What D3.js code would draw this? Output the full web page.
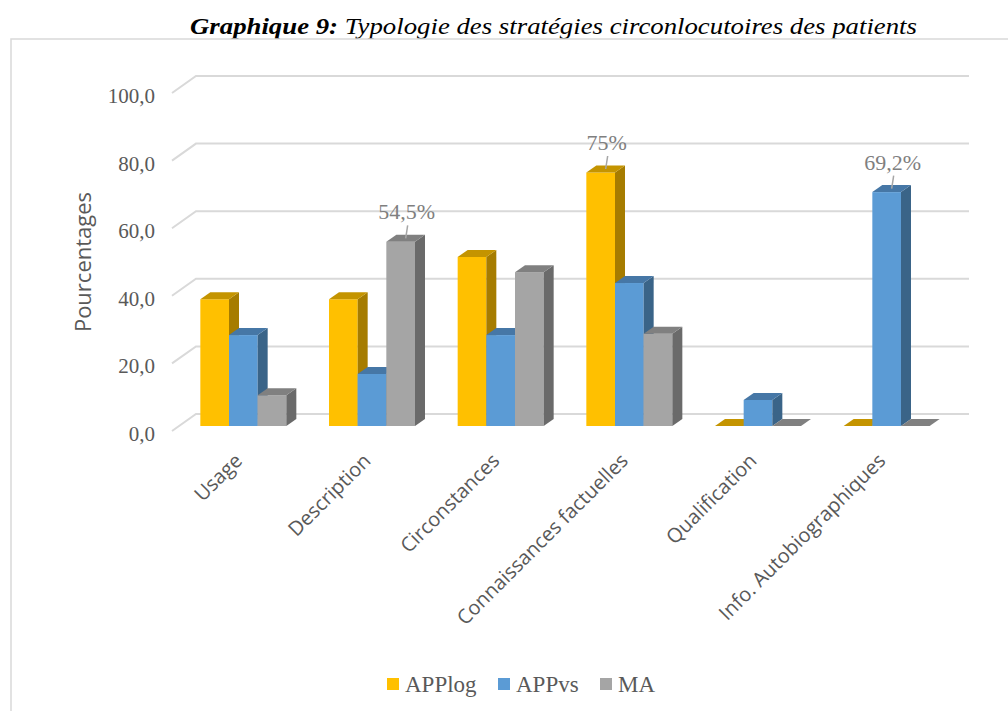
<!DOCTYPE html>
<html>
<head>
<meta charset="utf-8">
<script src="https://cdn.jsdelivr.net/npm/d3@7"></script>
<style>
  body { margin: 0; background: #fff; }
  svg { display: block; }
</style>
</head>
<body>
<div id="viz_container"></div>
<script>
// chart data
const categories = ["Usage", "Description", "Circonstances", "Connaissances factuelles", "Qualification", "Info. Autobiographiques"];
const seriesNames = ["APPlog", "APPvs", "MA"];
const appLog = [37.5, 37.5, 50.0, 75.0, 0, 0];
const appVs = [26.9, 15.4, 26.9, 42.3, 7.7, 69.2];
const ma = [9.1, 54.5, 45.5, 27.3, 0, 0];
const yTicks = [0, 20, 40, 60, 80, 100];
// labelled points: [category index, series index, text]
const dataLabels = [[1, 2, "54,5%"], [3, 0, "75%"], [5, 1, "69,2%"]];

const seriesValues = [appLog, appVs, ma];
const colors = {
  APPlog: { front: "#FFC000", side: "#A67C00", top: "#C49400" },
  APPvs: { front: "#5B9BD5", side: "#3A6488", top: "#4677A6" },
  MA: { front: "#A5A5A5", side: "#6A6A6A", top: "#808080" }
};

const width = 1008, height = 711;
const svg = d3.select("#viz_container")
  .append("svg")
    .attr("width", width)
    .attr("height", height);

// title
const title = svg.append("text")
  .attr("x", 190)
  .attr("y", 34)
  .attr("textLength", 727)
  .attr("lengthAdjust", "spacingAndGlyphs")
  .style("font-family", "'Liberation Serif', 'Times New Roman', serif")
  .style("font-size", "24px")
  .style("font-style", "italic")
  .attr("fill", "#000");
title.append("tspan").style("font-weight", "bold").text("Graphique 9:");
title.append("tspan").text(" Typologie des stratégies circonlocutoires des patients");

// chart border
svg.append("rect")
  .attr("x", 11).attr("y", 39)
  .attr("width", 1010).attr("height", 700)
  .attr("fill", "none")
  .attr("stroke", "#d9d9d9")
  .attr("stroke-width", 1.5);

// 3D geometry (front plane scales + depth offsets)
const floorDx = 24, floorDy = -17;   // depth of the floor/back wall
const barOffDx = 7, barOffDy = -5;    // bars' front face sits a bit behind the front plane
const barDx = 10, barDy = -7;         // bar depth

const x = d3.scaleBand()
  .domain(categories)
  .range([172, 944]);
const xInner = d3.scaleBand()
  .domain(seriesNames)
  .range([0, 86]);
const y = d3.scaleLinear()
  .domain([0, 100])
  .range([431, 93]);

// gridlines on the back wall with slant on the side wall
const grid = svg.append("g");
yTicks.forEach(t => {
  grid.append("path")
    .attr("d", `M${x.range()[0]},${y(t)} L${x.range()[0] + floorDx},${y(t) + floorDy} L969,${y(t) + floorDy}`)
    .attr("fill", "none")
    .attr("stroke", "#d9d9d9")
    .attr("stroke-width", 2);
});

// y axis tick labels
const yAxis = svg.append("g")
  .attr("transform", `translate(${x.range()[0]},0)`)
  .call(d3.axisLeft(y).tickValues(yTicks).tickSize(0).tickPadding(17)
    .tickFormat(d => d3.format(".1f")(d).replace(".", ",")));
yAxis.select(".domain").remove();
yAxis.selectAll("text")
  .attr("dy", "0.45em")
  .style("font-family", "'Liberation Serif', 'Times New Roman', serif")
  .style("font-size", "21px")
  .attr("fill", "#595959");

// y axis title
svg.append("text")
  .attr("transform", "translate(91,262) rotate(-90)")
  .attr("text-anchor", "middle")
  .style("font-family", "'Open Sans', sans-serif")
  .style("font-size", "22px")
  .attr("fill", "#595959")
  .text("Pourcentages");

// bars
const groupOffset = (x.bandwidth() - xInner.range()[1]) / 2;
const bars = svg.append("g");
categories.forEach((cat, ci) => {
  seriesNames.forEach((s, si) => {
    const v = seriesValues[si][ci];
    const x0 = x(cat) + groupOffset + xInner(s) + barOffDx;
    const x1 = x0 + xInner.bandwidth();
    const yb = y(0) + barOffDy;
    const yt = y(v) + barOffDy;
    const c = colors[s];
    const g = bars.append("g");
    if (v > 0) {
      g.append("rect")
        .attr("x", x0).attr("y", yt)
        .attr("width", x1 - x0).attr("height", yb - yt)
        .attr("fill", c.front);
      g.append("path")
        .attr("d", `M${x1},${yb} L${x1 + barDx},${yb + barDy} L${x1 + barDx},${yt + barDy} L${x1},${yt} Z`)
        .attr("fill", c.side);
    }
    g.append("path")
      .attr("d", `M${x0},${yt} L${x0 + barDx},${yt + barDy} L${x1 + barDx},${yt + barDy} L${x1},${yt} Z`)
      .attr("fill", c.top);
  });
});

// data labels with leader lines
dataLabels.forEach(([ci, si, txt]) => {
  const v = seriesValues[si][ci];
  const cx = x(categories[ci]) + groupOffset + xInner(seriesNames[si]) + barOffDx + xInner.bandwidth() / 2 + barDx / 2;
  const top = y(v) + barOffDy + barDy / 2;
  svg.append("line")
    .attr("x1", cx).attr("y1", top)
    .attr("x2", cx + 2).attr("y2", top - 13)
    .attr("stroke", "#a6a6a6")
    .attr("stroke-width", 1.5);
  svg.append("text")
    .attr("x", cx + 1)
    .attr("y", top - 19)
    .attr("text-anchor", "middle")
    .style("font-family", "'Liberation Serif', 'Times New Roman', serif")
    .style("font-size", "22px")
    .attr("fill", "#7f7f7f")
    .text(txt);
});

// category labels
svg.append("g")
  .selectAll("text")
  .data(categories)
  .join("text")
    .attr("transform", d => `translate(${x(d) + x.bandwidth() / 2 + barOffDx},${y(0) + 31}) rotate(-45)`)
    .attr("text-anchor", "end")
    .style("font-family", "'Open Sans', sans-serif")
    .style("font-size", "20px")
    .attr("fill", "#595959")
    .text(d => d);

// legend
const legendX = [387, 498, 600];
const legend = svg.append("g");
seriesNames.forEach((s, i) => {
  legend.append("rect")
    .attr("x", legendX[i]).attr("y", 678)
    .attr("width", 12).attr("height", 12)
    .attr("fill", colors[s].front);
  legend.append("text")
    .attr("x", legendX[i] + 18).attr("y", 692)
    .style("font-family", "'Liberation Serif', 'Times New Roman', serif")
    .style("font-size", "23px")
    .attr("fill", "#595959")
    .text(s);
});
</script>
</body>
</html>
